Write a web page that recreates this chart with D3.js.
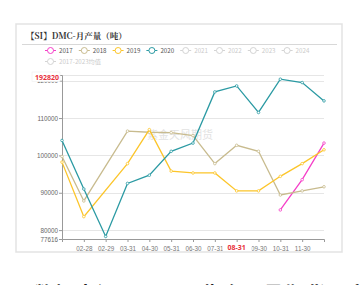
<!DOCTYPE html>
<html>
<head>
<meta charset="utf-8">
<script src="https://cdn.jsdelivr.net/npm/d3@7"></script>
<style>
  body { margin: 0; background: #fff; }
  svg { display: block; font-family: "Noto Sans", "Noto Sans CJK SC", sans-serif; }
</style>
</head>
<body>
<svg id="chart" width="360" height="285"></svg>
<script>
// Chart data
const months = ["01-31", "02-28", "02-29", "03-31", "04-30", "05-31", "06-30", "07-31", "08-31", "09-30", "10-31", "11-30", "12-31"];
const y2017 = [null, null, null, null, null, null, null, null, null, null, 85400, 93500, 103300];
const y2018 = [99700, 87800, null, 106500, 106200, 106100, 105300, 97800, 102700, 101100, 89400, 90500, 91600];
const y2019 = [98200, 83600, null, 97800, 106900, 95800, 95300, 95300, 90500, 90500, 94400, 97800, 101500];
const y2020 = [104000, 91000, 78300, 92500, 94700, 101100, 103300, 117000, 118600, 111500, 120400, 119500, 114600];
const legendYears = ["2017", "2018", "2019", "2020", "2021", "2022", "2023", "2024"];
const yTicks = [80000, 90000, 100000, 110000, 120000];
const yMin = 77616, yMax = 121530;
const pointerValue = "192820";
const pointerMonth = "08-31";

const seriesColors = { "2017": "#f53fc8", "2018": "#c8bb8e", "2019": "#fcc52a", "2020": "#2b9aa3" };
const seriesData = [
    { name: "2017", values: y2017 },
    { name: "2018", values: y2018 },
    { name: "2019", values: y2019 },
    { name: "2020", values: y2020 }
];

const svg = d3.select("#chart");

// Frame
svg.append("rect")
    .attr("x", 16).attr("y", 24).attr("width", 326).attr("height", 228)
    .attr("fill", "#fff").attr("stroke", "#e3e3e3").attr("stroke-width", 1.5);

svg.append("text")
    .attr("x", 26).attr("y", 39)
    .attr("font-family", "'Noto Serif CJK SC', 'Noto Sans CJK SC', serif")
    .attr("font-size", 8.5).attr("font-weight", "bold").attr("fill", "#333")
    .text("【SI】DMC-月产量（吨）");

svg.append("line")
    .attr("x1", 22).attr("x2", 337).attr("y1", 44.5).attr("y2", 44.5)
    .attr("stroke", "#d8d8d8").attr("stroke-width", 1);

// Legend
const legend = svg.append("g").attr("font-size", 6.2);
const legendItems = legendYears.map(y => ({ label: y, color: seriesColors[y] })).concat([{ label: "2017-2023均值" }]);
legendItems.forEach((item, i) => {
    const row = i < 8 ? 0 : 1;
    const col = i < 8 ? i : 0;
    const g = legend.append("g").attr("transform", `translate(${45 + col * 33.8}, ${50.5 + row * 11})`);
    const c = item.color || "#d4d4d4";
    g.append("line").attr("x1", 0).attr("x2", 11).attr("stroke", c).attr("stroke-width", 1);
    g.append("circle").attr("cx", 5.5).attr("r", 3).attr("fill", "#fff").attr("stroke", c).attr("stroke-width", 1);
    g.append("text").attr("x", 14).attr("y", 2.2)
        .attr("fill", item.color ? "#555" : "#cbcbcb")
        .attr("font-family", "'Noto Sans CJK SC', sans-serif")
        .text(item.label);
});

// Scales
const x = d3.scalePoint().domain(months).range([62, 324]);
const y = d3.scaleLinear().domain([yMin, yMax]).range([239, 75]);

// Watermark
svg.append("text")
    .attr("x", 180).attr("y", 139).attr("text-anchor", "middle")
    .attr("font-family", "'Noto Sans CJK SC', sans-serif")
    .attr("font-size", 11).attr("fill", "#ddd").attr("opacity", 0.85)
    .text("紫金天风期货");

// Grid
const grid = svg.append("g");
yTicks.concat([yMax]).forEach(v => {
    grid.append("line")
        .attr("x1", 62).attr("x2", 324)
        .attr("y1", Math.round(y(v)) + 0.5).attr("y2", Math.round(y(v)) + 0.5)
        .attr("stroke", "#e6e6e6").attr("stroke-width", 1);
});

// Y axis (top tick label sits under the red pointer label)
const yAxis = svg.append("g").attr("transform", "translate(62,0)")
    .call(d3.axisLeft(y).tickValues(yTicks.concat([yMin])).tickSize(3).tickFormat(d3.format("d")));
yAxis.select(".domain").attr("stroke", "#999");
yAxis.selectAll(".tick line").attr("stroke", "#999");
yAxis.selectAll(".tick text").attr("font-size", 6.3).attr("fill", "#666").attr("x", -4);

// X axis
const labelled = months.slice(1, 12);
const xAxis = svg.append("g").attr("transform", "translate(0,239)")
    .call(d3.axisBottom(x).tickValues(labelled).tickSize(3));
xAxis.select(".domain").attr("stroke", "#999");
xAxis.selectAll(".tick line").attr("stroke", "#999");
xAxis.selectAll(".tick text").attr("font-size", 6.3).attr("fill", "#777").attr("dy", "0.9em");

// Series
const line = d3.line()
    .defined(d => d.v !== null)
    .x(d => x(d.m))
    .y(d => y(d.v));

seriesData.forEach(s => {
    const pts = s.values.map((v, i) => ({ m: months[i], v: v }));
    const valid = pts.filter(d => d.v !== null);
    svg.append("path")
        .datum(valid)
        .attr("fill", "none")
        .attr("stroke", seriesColors[s.name])
        .attr("stroke-width", 1.3)
        .attr("d", line);
    svg.append("g").selectAll("circle")
        .data(valid)
        .enter().append("circle")
        .attr("cx", d => x(d.m)).attr("cy", d => y(d.v))
        .attr("r", 1.3)
        .attr("fill", "#fff")
        .attr("stroke", seriesColors[s.name])
        .attr("stroke-width", 0.8);
});

// Pointer labels
const py = 77;
svg.append("rect").attr("x", 32).attr("y", py - 5).attr("width", 28).attr("height", 9.5)
    .attr("fill", "#fff").attr("stroke", "#eee").attr("stroke-width", 0.6);
svg.append("text").attr("x", 59).attr("y", py + 2.5).attr("text-anchor", "end")
    .attr("font-size", 7).attr("font-weight", "bold").attr("fill", "#e8313c")
    .text(pointerValue);

const px = x(pointerMonth);
svg.append("rect").attr("x", px - 14).attr("y", 242).attr("width", 29).attr("height", 9)
    .attr("fill", "#fff");
svg.append("text").attr("x", px).attr("y", 249.5).attr("text-anchor", "middle")
    .attr("font-size", 7).attr("font-weight", "bold").attr("fill", "#e8313c")
    .text(pointerMonth);

// Caption below (only the top edge is visible)
svg.append("text")
    .attr("x", 34).attr("y", 301)
    .attr("font-family", "'Noto Sans CJK SC', sans-serif")
    .attr("font-size", 19).attr("font-weight", "bold").attr("fill", "#222")
    .attr("letter-spacing", 2)
    .text("数据来源：Wind 紫金天风期货研究所");
</script>
</body>
</html>
